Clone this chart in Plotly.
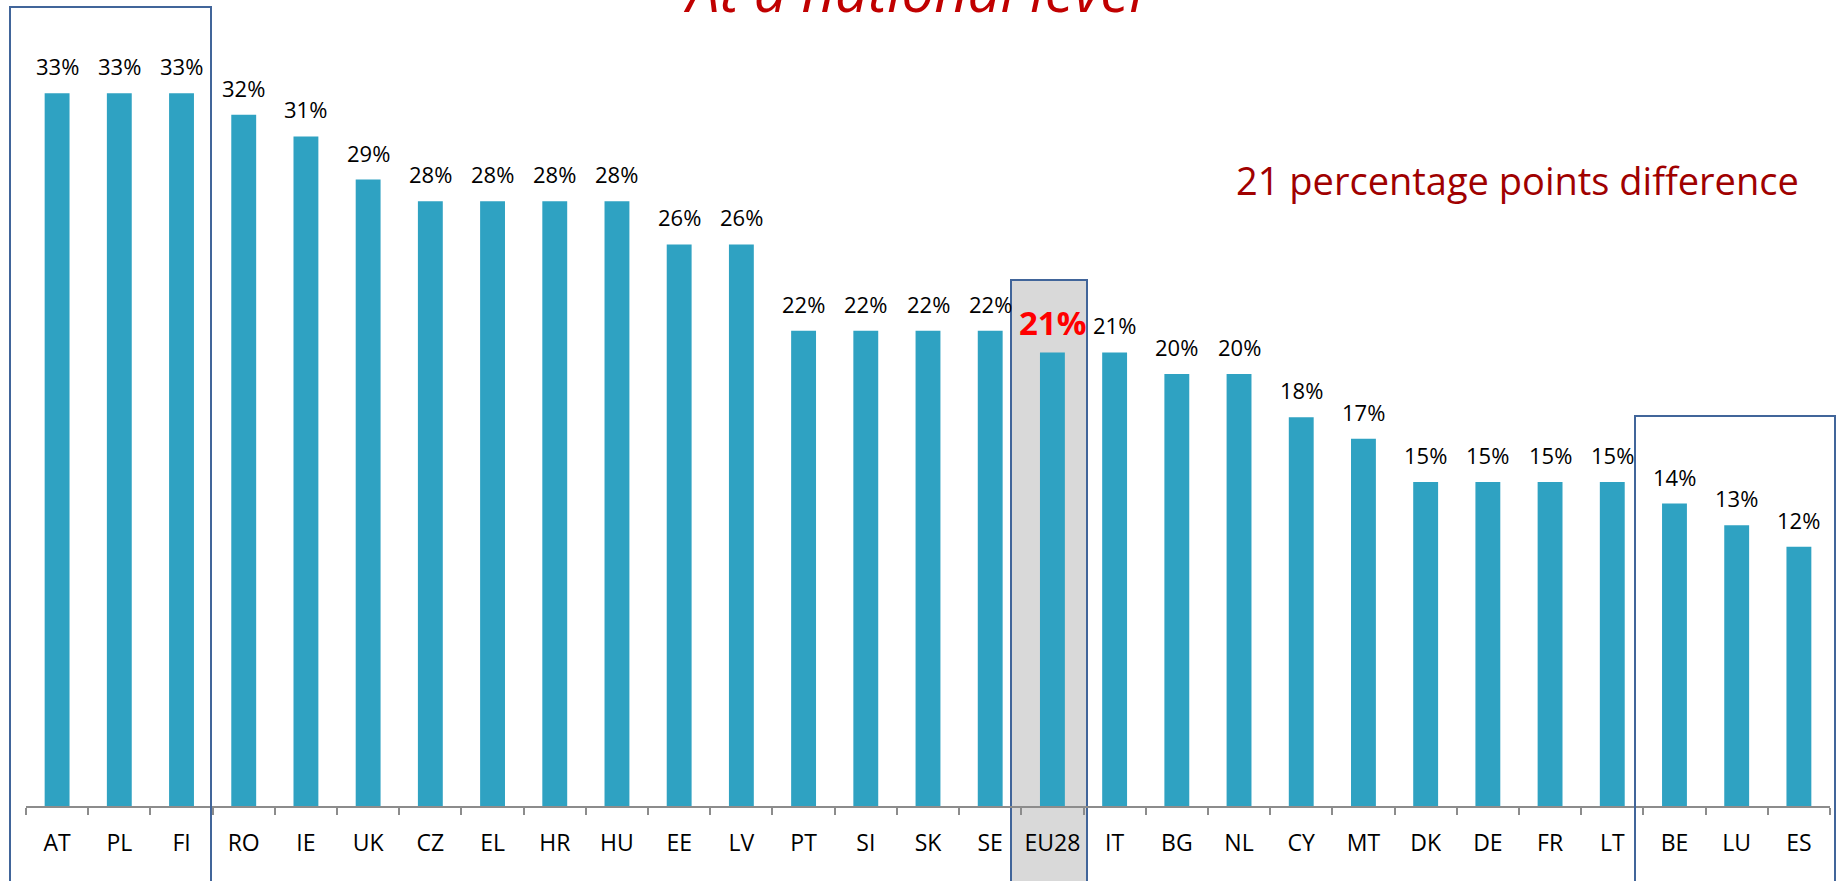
import plotly.graph_objects as go

# ---- data ----
countries = ["AT", "PL", "FI", "RO", "IE", "UK", "CZ", "EL", "HR", "HU", "EE", "LV",
             "PT", "SI", "SK", "SE", "EU28", "IT", "BG", "NL", "CY", "MT", "DK", "DE",
             "FR", "LT", "BE", "LU", "ES"]
values = [33, 33, 33, 32, 31, 29, 28, 28, 28, 28, 26, 26,
          22, 22, 22, 22, 21, 21, 20, 20, 18, 17, 15, 15,
          15, 15, 14, 13, 12]
highlight = "EU28"
title_text = "At a national level"
note_text = "21 percentage points difference"

FONT = "Open Sans"

W, H = 1840, 881
ML, MR, MT, MB = 26, 10, 6, 75
plot_h = H - MT - MB
plot_w = W - ML - MR
px_per_unit = 21.6
ymax = plot_h / px_per_unit


def px_x(p):
    return (p - ML) / plot_w


def px_y(p):
    return (H - MB - p) / plot_h


fig = go.Figure()

fig.add_trace(go.Bar(
    x=countries,
    y=values,
    marker=dict(color="#2FA2C2", line=dict(width=0)),
    hoverinfo="x+y",
    showlegend=False,
))

annotations = []
for c, v in zip(countries, values):
    if c == highlight:
        annotations.append(dict(
            x=c, y=v, xref="x", yref="y", text=f"<b>{v}%</b>", showarrow=False,
            yanchor="bottom", yshift=5,
            font=dict(family=FONT, size=33, color="#FF0000"),
        ))
    else:
        annotations.append(dict(
            x=c, y=v, xref="x", yref="y", text=f"{v}%", showarrow=False,
            yanchor="bottom", yshift=10,
            font=dict(family=FONT, size=22, color="#000000"),
        ))

annotations.append(dict(
    x=px_x(914), y=px_y(31), xref="paper", yref="paper", text=f"<i>{title_text}</i>",
    showarrow=False, xanchor="center", yanchor="bottom",
    font=dict(family=FONT, size=58, color="#C00000"),
))
annotations.append(dict(
    x=px_x(1517), y=px_y(208), xref="paper", yref="paper", text=note_text,
    showarrow=False, xanchor="center", yanchor="bottom",
    font=dict(family=FONT, size=38, color="#A00000"),
))

box_line = dict(color="#41659A", width=2)
shapes = [
    dict(type="rect", xref="paper", yref="paper", layer="below",
         x0=px_x(1011), x1=px_x(1087), y0=px_y(890), y1=px_y(280),
         fillcolor="#D9D9D9", line=box_line),
    dict(type="rect", xref="paper", yref="paper", layer="above",
         x0=px_x(10), x1=px_x(211), y0=px_y(890), y1=px_y(7),
         fillcolor="rgba(0,0,0,0)", line=box_line),
    dict(type="rect", xref="paper", yref="paper", layer="above",
         x0=px_x(1635), x1=px_x(1835), y0=px_y(890), y1=px_y(416),
         fillcolor="rgba(0,0,0,0)", line=box_line),
]

fig.update_layout(
    width=W, height=H,
    margin=dict(l=ML, r=MR, t=MT, b=MB),
    paper_bgcolor="white",
    plot_bgcolor="rgba(0,0,0,0)",
    bargap=0.6,
    annotations=annotations,
    shapes=shapes,
    font=dict(family=FONT, color="#000000"),
    xaxis=dict(
        type="category",
        showline=True, linecolor="#8C8C8C", linewidth=2,
        ticks="outside", tickson="boundaries", ticklen=7, tickcolor="#8C8C8C", tickwidth=2,
        tickangle=0, ticklabelstandoff=15,
        tickfont=dict(family=FONT, size=23, color="#000000"),
        showgrid=False, zeroline=False,
    ),
    yaxis=dict(
        range=[0, ymax], visible=False, showgrid=False, zeroline=False,
    ),
)

fig.write_html(
    "out.html",
    config={"displayModeBar": False},
    post_script="document.body.style.margin='0';document.body.style.overflow='hidden';",
)
